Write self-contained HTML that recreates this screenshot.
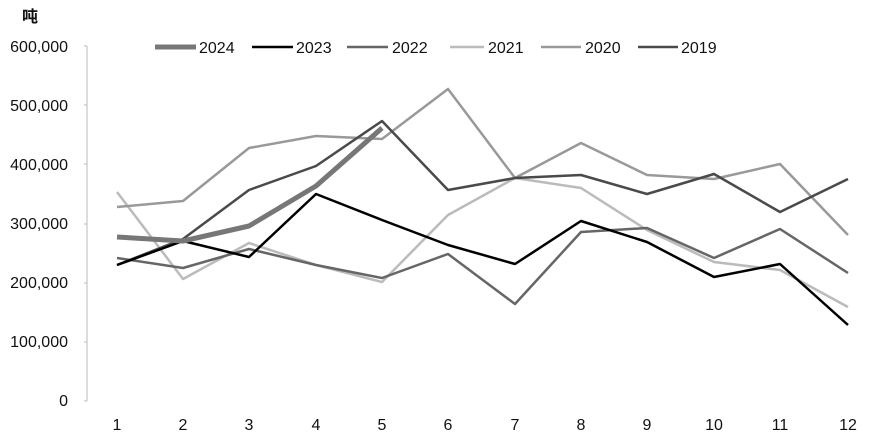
<!DOCTYPE html><html><head><style>body{margin:0;background:#fff}svg text{font-family:"Liberation Sans","Noto Sans CJK SC",sans-serif;font-size:16px;fill:#111}</style></head><body>
<svg width="887" height="440" viewBox="0 0 887 440">
<text x="22" y="22" style="font-size:16px;font-weight:bold">吨</text>
<g text-anchor="end">
<text x="68" y="52">600,000</text><text x="68" y="111">500,000</text><text x="68" y="170">400,000</text><text x="68" y="229">300,000</text><text x="68" y="288">200,000</text><text x="68" y="347">100,000</text><text x="68" y="406">0</text></g>
<line x1="87" y1="46" x2="87" y2="401" stroke="#bbb"/>
<g stroke="#bbb"><line x1="84" y1="46" x2="87" y2="46"/><line x1="84" y1="105" x2="87" y2="105"/><line x1="84" y1="164" x2="87" y2="164"/><line x1="84" y1="224" x2="87" y2="224"/><line x1="84" y1="283" x2="87" y2="283"/><line x1="84" y1="342" x2="87" y2="342"/><line x1="84" y1="401" x2="87" y2="401"/></g>
<g text-anchor="middle"><text x="117" y="430">1</text><text x="183" y="430">2</text><text x="249" y="430">3</text><text x="316" y="430">4</text><text x="382" y="430">5</text><text x="448" y="430">6</text><text x="515" y="430">7</text><text x="581" y="430">8</text><text x="647" y="430">9</text><text x="714" y="430">10</text><text x="780" y="430">11</text><text x="848" y="430">12</text></g>
<g fill="none" stroke-linejoin="round">
<polyline stroke="#bbb" stroke-width="2.5" points="117,192 183,279 249,243 316,265 382,282 448,215 515,178 581,188 647,230 714,262 780,270 848,307"/>
<polyline stroke="#999" stroke-width="2.5" points="117,207 183,201 249,148 316,136 382,139 448,89 515,178 581,143 647,175 714,179 780,164 848,235"/>
<polyline stroke="#666" stroke-width="2.5" points="117,258 183,268 249,249 316,265 382,278 448,254 515,304 581,232 647,228 714,258 780,229 848,273"/>
<polyline stroke="#4a4a4a" stroke-width="2.5" points="117,265 183,239 249,190 316,166 382,121 448,190 515,178 581,175 647,194 714,174 780,212 848,179"/>
<polyline stroke="#000" stroke-width="2.5" points="117,265 183,241 249,257 316,194 382,220 448,245 515,264 581,221 647,242 714,277 780,264 848,325"/>
<polyline stroke="#777" stroke-width="5" points="117,237 183,241 249,226 316,186 382,128"/>
</g>
<g stroke-width="2.5">
<line x1="155" y1="47" x2="196" y2="47" stroke="#777" stroke-width="5"/>
<line x1="252" y1="47" x2="293" y2="47" stroke="#000"/>
<line x1="347" y1="47" x2="388" y2="47" stroke="#666"/>
<line x1="450" y1="47" x2="484" y2="47" stroke="#bbb"/>
<line x1="541" y1="47" x2="581" y2="47" stroke="#999"/>
<line x1="638" y1="47" x2="678" y2="47" stroke="#4a4a4a"/>
</g>
<text x="199" y="53">2024</text><text x="296" y="53">2023</text><text x="392" y="53">2022</text><text x="488" y="53">2021</text><text x="585" y="53">2020</text><text x="681" y="53">2019</text>
</svg></body></html>
